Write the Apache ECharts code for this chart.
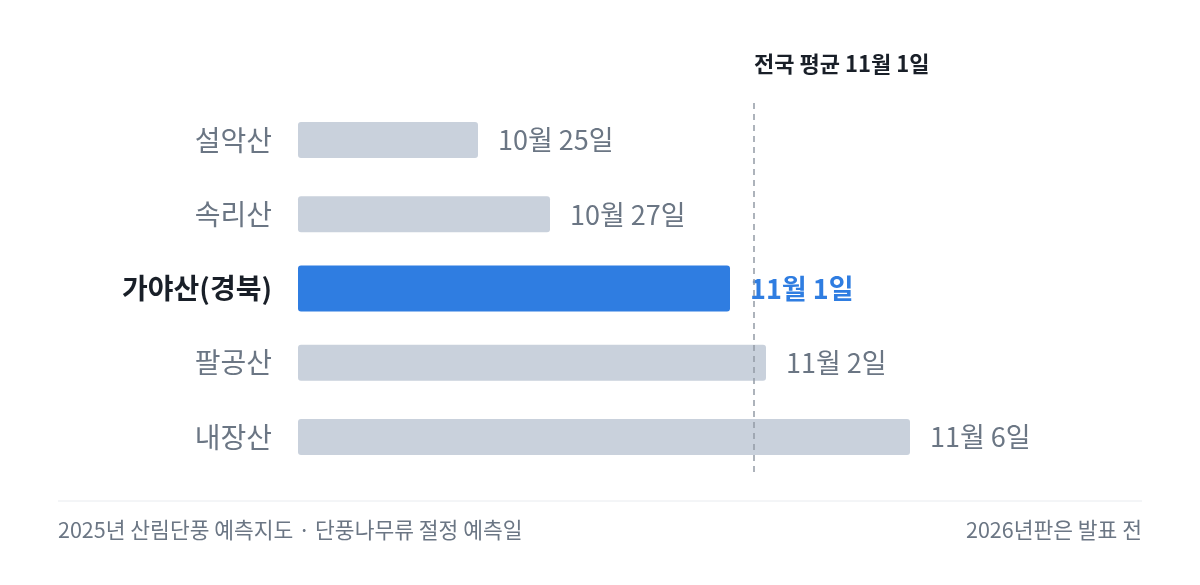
<!DOCTYPE html>
<html>
<head>
<meta charset="utf-8">
<script src="https://cdn.jsdelivr.net/npm/echarts@6/dist/echarts.min.js"></script>
<style>
html,body{margin:0;padding:0;background:#fff;}
#c{width:1200px;height:585px;}
</style>
</head>
<body>
<div id="c"></div>
<script>
// Data (values are day-of-year in 2025)
const categories = ['설악산', '속리산', '가야산(경북)', '팔공산', '내장산'];
const dateLabels = ['10월 25일', '10월 27일', '11월 1일', '11월 2일', '11월 6일'];
const peakDay = [298, 300, 305, 306, 310];
const highlightIndex = 2;
const averageDay = 305.67;
const averageLabel = '전국 평균 11월 1일';
const axisMinDay = 293;
const axisMaxDay = 316;
const footerLeft = '2025년 산림단풍 예측지도 · 단풍나무류 절정 예측일';
const footerRight = '2026년판은 발표 전';

const FONT = '"Noto Sans CJK KR", "Noto Sans", sans-serif';
const GRAY_TEXT = '#6b7684';
const DARK = '#191f28';
const BLUE = '#2f7de1';
const BAR_GRAY = '#c9d1dc';

const grayData = peakDay.map((v, i) => i === highlightIndex ? '-' : v);
const blueData = peakDay.map((v, i) => i === highlightIndex ? v : '-');

const chart = echarts.init(document.getElementById('c'), null, {renderer: 'canvas'});
chart.setOption({
  backgroundColor: '#ffffff',
  animation: false,
  textStyle: {fontFamily: FONT},
  grid: {left: 298, right: 74, top: 103, bottom: 111, containLabel: false},
  xAxis: {
    type: 'value', min: axisMinDay, max: axisMaxDay,
    show: false, splitLine: {show: false}
  },
  yAxis: [
    {
      type: 'category', data: categories, inverse: true,
      axisLine: {show: false}, axisTick: {show: false}, splitLine: {show: false},
      axisLabel: {
        margin: 26,
        formatter: (v, i) => i === highlightIndex ? '{hl|' + v + '}' : '{n|' + v + '}',
        rich: {
          n: {fontSize: 28, color: GRAY_TEXT, fontFamily: FONT},
          hl: {fontSize: 28, color: DARK, fontWeight: 'bold', fontFamily: FONT}
        }
      }
    },
    {
      type: 'category', data: categories, inverse: true, show: false
    }
  ],
  series: [
    {
      type: 'bar', yAxisIndex: 0, data: grayData, barWidth: 36,
      itemStyle: {color: BAR_GRAY, borderRadius: 3},
      label: {
        show: true, position: 'right', distance: 20,
        formatter: p => dateLabels[p.dataIndex],
        fontSize: 27, color: GRAY_TEXT, fontFamily: FONT
      },
      markLine: {
        silent: true, symbol: ['none', 'none'],
        lineStyle: {color: '#929aa5', type: [6, 5], width: 1.5},
        label: {
          show: true, position: 'start', formatter: averageLabel,
          align: 'left', distance: 28,
          fontSize: 22, fontWeight: 'bold', color: DARK, fontFamily: FONT
        },
        data: [{xAxis: averageDay}]
      },
      z: 2
    },
    {
      type: 'bar', yAxisIndex: 1, data: blueData, barWidth: 46,
      itemStyle: {color: BLUE, borderRadius: 3},
      label: {
        show: true, position: 'right', distance: 20,
        formatter: p => dateLabels[p.dataIndex],
        fontSize: 27, fontWeight: 'bold', color: BLUE, fontFamily: FONT
      },
      z: 1
    }
  ],
  graphic: [
    {type: 'line', shape: {x1: 58, y1: 501, x2: 1142, y2: 501},
     style: {stroke: '#e8ebef', lineWidth: 1}, silent: true},
    {type: 'text', left: 58, top: 519,
     style: {text: footerLeft, font: '21.5px ' + FONT, fill: GRAY_TEXT}},
    {type: 'text', right: 58, top: 519,
     style: {text: footerRight, font: '21.5px ' + FONT, fill: GRAY_TEXT, textAlign: 'right'}}
  ]
});
</script>
</body>
</html>
